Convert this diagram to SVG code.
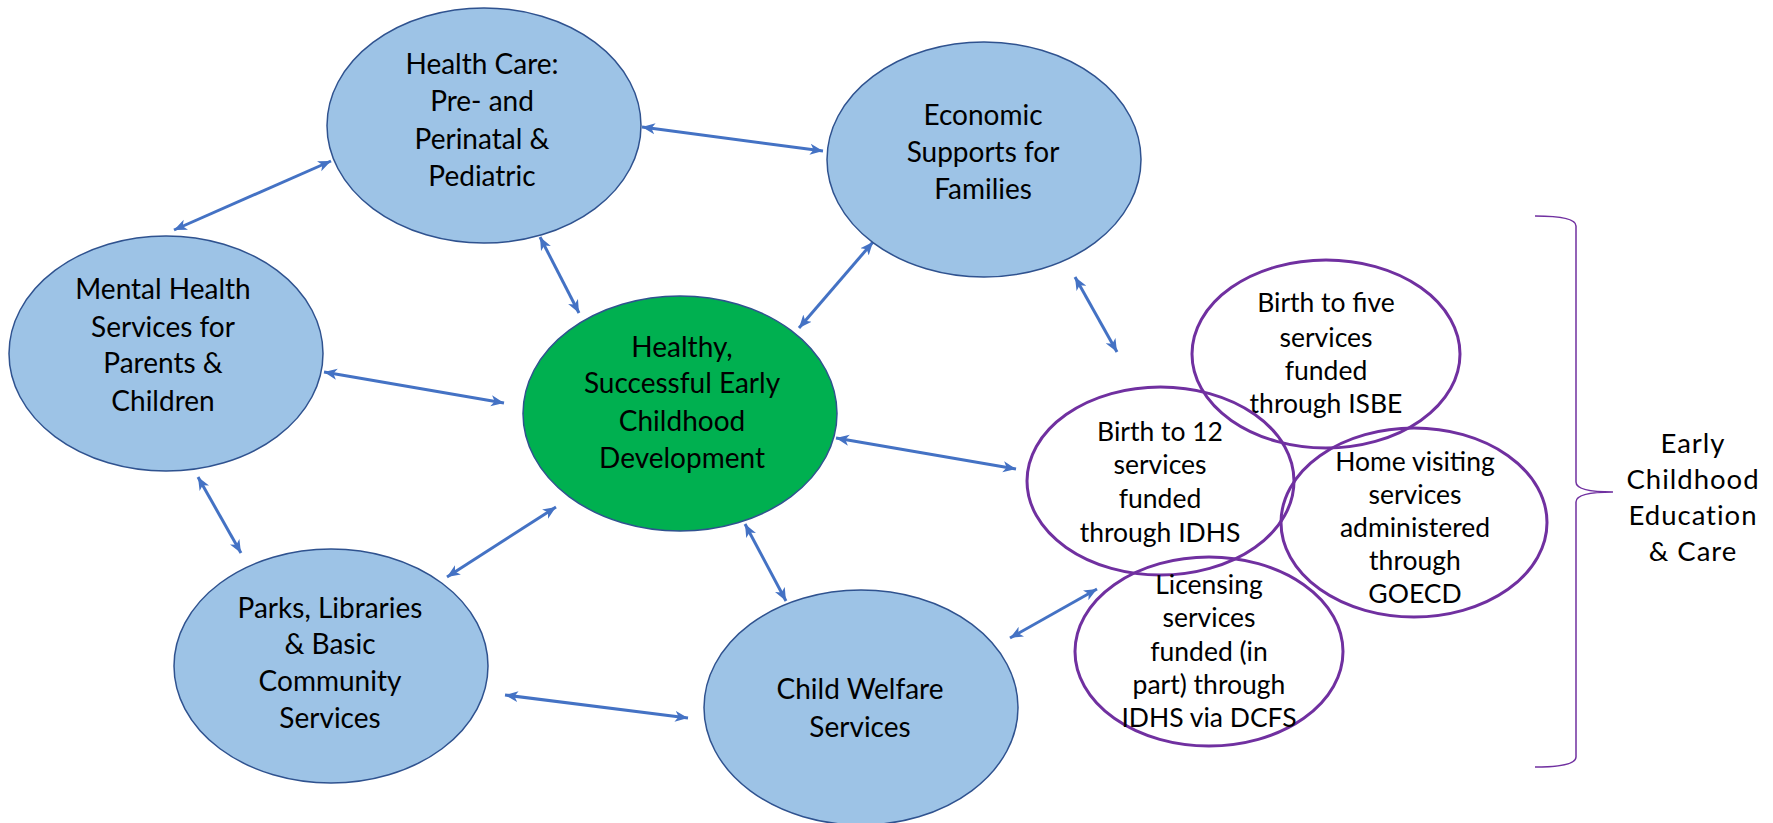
<svg xmlns="http://www.w3.org/2000/svg" width="1773" height="823" viewBox="0 0 1773 823">
<style>
.blue{fill:#9DC3E6;stroke:#2F528F;stroke-width:1.5}
.green{fill:#00B050;stroke:#2F528F;stroke-width:1.5}
.purple{fill:none;stroke:#7030A0;stroke-width:3}
.t{font-family:Lato,"Liberation Sans",sans-serif;font-size:28px;fill:#000;text-anchor:middle}
.tp{font-family:Lato,"Liberation Sans",sans-serif;font-size:26.5px;fill:#000;text-anchor:middle}
.tl{font-family:Lato,"Liberation Sans",sans-serif;font-size:27.5px;letter-spacing:1px;fill:#000;text-anchor:middle}
.c{stroke:#4472C4;stroke-width:3;fill:none;marker-start:url(#ah);marker-end:url(#ah)}
</style>
<defs>
<marker id="ah" markerUnits="userSpaceOnUse" markerWidth="14" markerHeight="12" refX="13" refY="6" orient="auto-start-reverse" viewBox="0 0 14 12">
<path d="M0,0.5 L13,6 L0,11.5 L3.5,6 z" fill="#4472C4"/>
</marker>
</defs>
<rect width="1773" height="823" fill="#fff"/>
<g id="connectors">
<line class="c" x1="642" y1="127" x2="823" y2="151"/>
<line class="c" x1="331" y1="161" x2="174" y2="230"/>
<line class="c" x1="540" y1="237" x2="579" y2="313"/>
<line class="c" x1="873" y1="242" x2="799" y2="328"/>
<line class="c" x1="1075" y1="277" x2="1117" y2="352"/>
<line class="c" x1="324" y1="372" x2="504" y2="403"/>
<line class="c" x1="836" y1="438" x2="1016" y2="469"/>
<line class="c" x1="198" y1="477" x2="241" y2="553"/>
<line class="c" x1="447" y1="577" x2="556" y2="507"/>
<line class="c" x1="745" y1="524" x2="786" y2="601"/>
<line class="c" x1="505" y1="695" x2="688" y2="718"/>
<line class="c" x1="1010" y1="638" x2="1097" y2="589"/>
</g>
<g id="health-care">
<ellipse class="blue" cx="484" cy="125.5" rx="157" ry="117.5"/>
<text class="t" x="482" y="74">Health Care:</text>
<text class="t" x="482" y="111">Pre- and</text>
<text class="t" x="482" y="149">Perinatal &amp;</text>
<text class="t" x="482" y="186">Pediatric</text>
</g>
<g id="economic">
<ellipse class="blue" cx="984" cy="159.5" rx="157" ry="117.5"/>
<text class="t" x="983" y="125">Economic</text>
<text class="t" x="983" y="162">Supports for</text>
<text class="t" x="983" y="199">Families</text>
</g>
<g id="mental-health">
<ellipse class="blue" cx="166" cy="353.5" rx="157" ry="117.5"/>
<text class="t" x="163" y="299">Mental Health</text>
<text class="t" x="163" y="337">Services for</text>
<text class="t" x="163" y="373">Parents &amp;</text>
<text class="t" x="163" y="411">Children</text>
</g>
<g id="healthy-development">
<ellipse class="green" cx="680" cy="413.5" rx="157" ry="117.5"/>
<text class="t" x="682" y="357">Healthy,</text>
<text class="t" x="682" y="393">Successful Early</text>
<text class="t" x="682" y="431">Childhood</text>
<text class="t" x="682" y="468">Development</text>
</g>
<g id="parks">
<ellipse class="blue" cx="331" cy="666" rx="157" ry="117"/>
<text class="t" x="330" y="618">Parks, Libraries</text>
<text class="t" x="330" y="654">&amp; Basic</text>
<text class="t" x="330" y="691">Community</text>
<text class="t" x="330" y="728">Services</text>
</g>
<g id="child-welfare">
<ellipse class="blue" cx="861" cy="707.5" rx="157" ry="117.5"/>
<text class="t" x="860" y="699">Child Welfare</text>
<text class="t" x="860" y="737">Services</text>
</g>
<g id="birth-to-five">
<ellipse class="purple" cx="1326" cy="354" rx="134" ry="94"/>
<text class="tp" x="1326" y="312">Birth to five</text>
<text class="tp" x="1326" y="347">services</text>
<text class="tp" x="1326" y="380">funded</text>
<text class="tp" x="1326" y="413">through ISBE</text>
</g>
<g id="birth-to-12">
<ellipse class="purple" cx="1160.5" cy="481" rx="133.5" ry="94"/>
<text class="tp" x="1160" y="441">Birth to 12</text>
<text class="tp" x="1160" y="474">services</text>
<text class="tp" x="1160" y="508">funded</text>
<text class="tp" x="1160" y="542">through IDHS</text>
</g>
<g id="home-visiting">
<ellipse class="purple" cx="1414" cy="522.5" rx="133" ry="94.5"/>
<text class="tp" x="1415" y="471">Home visiting</text>
<text class="tp" x="1415" y="504">services</text>
<text class="tp" x="1415" y="537">administered</text>
<text class="tp" x="1415" y="570">through</text>
<text class="tp" x="1415" y="603">GOECD</text>
</g>
<g id="licensing">
<ellipse class="purple" cx="1209" cy="651.5" rx="134" ry="94.5"/>
<text class="tp" x="1209" y="594">Licensing</text>
<text class="tp" x="1209" y="627">services</text>
<text class="tp" x="1209" y="661">funded (in</text>
<text class="tp" x="1209" y="694">part) through</text>
<text class="tp" x="1209" y="727">IDHS via DCFS</text>
</g>
<g id="ecec-brace">
<path d="M1535,216 Q1576,216 1576,226 L1576,482 Q1576,492 1613,492 Q1576,492 1576,502 L1576,757 Q1576,767 1535,767" fill="none" stroke="#7030A0" stroke-width="1.5"/>
<text class="tl" x="1693" y="453">Early</text>
<text class="tl" x="1693" y="489">Childhood</text>
<text class="tl" x="1693" y="525">Education</text>
<text class="tl" x="1693" y="561">&amp; Care</text>
</g>
</svg>
